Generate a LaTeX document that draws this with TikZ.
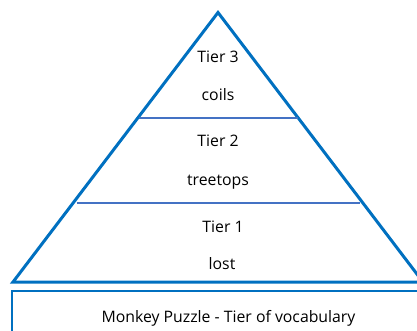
\documentclass[tikz,border=0pt]{standalone}
\usepackage{fontspec}
\setmainfont{Open Sans}
\definecolor{triblue}{HTML}{0070C0}
\definecolor{lineblue}{HTML}{4472C4}
\begin{document}
\begin{tikzpicture}[x=1pt,y=-1pt,
  lbl/.style={font=\fontsize{15.8}{18}\selectfont, anchor=base, inner sep=0pt, text=black},
  tri/.style={draw=triblue, line width=3pt, line join=miter},
  divider/.style={draw=lineblue, line width=2pt},
  box/.style={draw=triblue, line width=2pt}]
\useasboundingbox (0,0) rectangle (417,331);
\coordinate (apex) at (218,12.5);
\coordinate (bl) at (13,282);
\coordinate (br) at (423,282);
\draw[tri] (bl) -- (apex) -- (br) -- cycle;
\coordinate (d1l) at (138.5,118);
\coordinate (d1r) at (297.5,118);
\coordinate (d2l) at (76.5,203);
\coordinate (d2r) at (359.5,203);
\draw[divider] (d1l) -- (d1r);
\draw[divider] (d2l) -- (d2r);
\draw[box] (12,291) rectangle (440,345);
\node[lbl] (t3) at (218,63) {Tier 3};
\node[lbl] (c3) at (218,101) {coils};
\node[lbl] (t2) at (218,147) {Tier 2};
\node[lbl] (c2) at (218,185) {treetops};
\node[lbl] (t1) at (223,232) {Tier 1};
\node[lbl] (c1) at (222,269) {lost};
\node[lbl] (title) at (228.5,322) {Monkey Puzzle - Tier of vocabulary};
\end{tikzpicture}
\end{document}
